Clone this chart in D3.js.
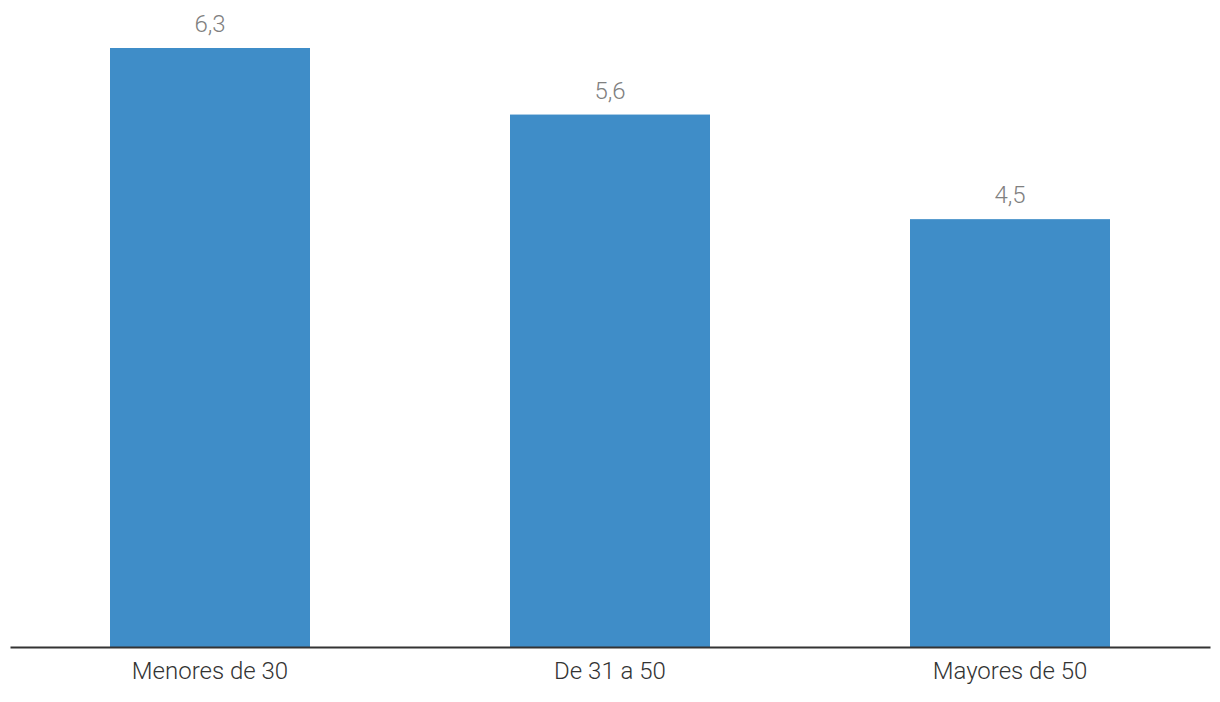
<!DOCTYPE html>
<html>
<head>
<meta charset="utf-8">
<script src="https://cdn.jsdelivr.net/npm/d3@7"></script>
<style>
  body { margin: 0; background: #fff; }
  text { font-family: Roboto, "Noto Sans", sans-serif; }
</style>
</head>
<body>
<div id="chart"></div>
<script>
'use strict';

const categories = ["Menores de 30", "De 31 a 50", "Mayores de 50"];
const values = [6.3, 5.6, 4.5];
const valueLabels = ["6,3", "5,6", "4,5"];

const width = 1220, height = 702;
const baseline = 647;

const svg = d3.select("#chart")
    .append("svg")
    .attr("width", width)
    .attr("height", height);

const x = d3.scaleBand()
    .domain(categories)
    .range([10, 1210])
    .paddingInner(0.5)
    .paddingOuter(0.25);

// 6.3 reaches y=48
const y = d3.scaleLinear()
    .domain([0, 6.3])
    .range([baseline, 48]);

svg.selectAll(".bar")
    .data(values)
    .enter()
    .append("rect")
    .attr("class", "bar")
    .attr("x", (d, i) => x(categories[i]))
    .attr("y", d => y(d))
    .attr("width", x.bandwidth())
    .attr("height", d => baseline - y(d))
    .style("fill", "#3f8dc8");

svg.selectAll(".val")
    .data(values)
    .enter()
    .append("text")
    .attr("class", "val")
    .attr("x", (d, i) => x(categories[i]) + x.bandwidth() / 2)
    .attr("y", d => y(d) - 16)
    .style("text-anchor", "middle")
    .style("font-size", "24px")
    .style("font-weight", 300)
    .style("fill", "#808080")
    .text((d, i) => valueLabels[i]);

// x axis
const xAxis = svg.append("g")
    .attr("transform", "translate(0," + baseline + ")")
    .call(d3.axisBottom(x).tickSize(0).tickPadding(15).tickSizeOuter(0));

xAxis.select(".domain")
    .attr("stroke", "#333")
    .attr("stroke-width", 2);

xAxis.selectAll("text")
    .style("font-family", "Roboto, 'Noto Sans', sans-serif")
    .style("font-size", "24px")
    .style("font-weight", 300)
    .style("fill", "#333")
    .attr("dy", "0.71em");
</script>
</body>
</html>
